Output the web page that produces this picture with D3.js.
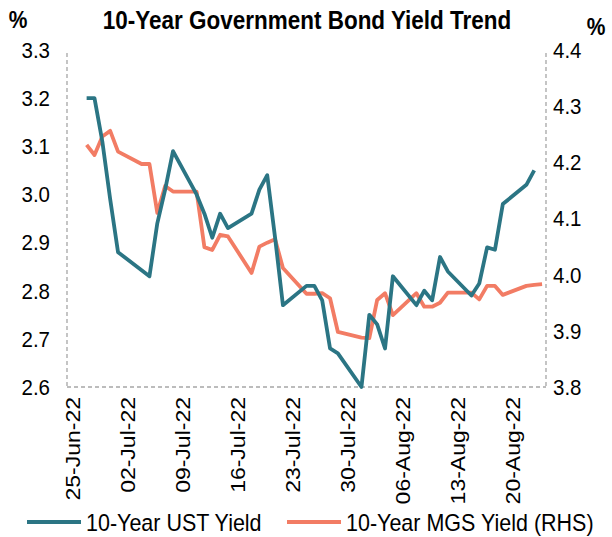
<!DOCTYPE html>
<html>
<head>
<meta charset="utf-8">
<script src="https://cdn.jsdelivr.net/npm/d3@7"></script>
<style>
  html, body { margin: 0; padding: 0; background: #fff; }
  svg { display: block; font-family: "Liberation Sans", Arial, sans-serif; }
</style>
</head>
<body>
<svg id="chart" width="612" height="537"></svg>
<script>
// 10-year UST yield (left axis), US trading days
const ustDates = [
  "2022-06-27","2022-06-28","2022-06-29","2022-06-30","2022-07-01",
  "2022-07-05","2022-07-06","2022-07-07","2022-07-08",
  "2022-07-11","2022-07-12","2022-07-13","2022-07-14","2022-07-15",
  "2022-07-18","2022-07-19","2022-07-20","2022-07-21","2022-07-22",
  "2022-07-25","2022-07-26","2022-07-27","2022-07-28","2022-07-29",
  "2022-08-01","2022-08-02","2022-08-03","2022-08-04","2022-08-05",
  "2022-08-08","2022-08-09","2022-08-10","2022-08-11","2022-08-12",
  "2022-08-15","2022-08-16","2022-08-17","2022-08-18","2022-08-19",
  "2022-08-22","2022-08-23"
];
const ustYield = [
  3.20, 3.20, 3.11, 2.99, 2.88,
  2.83, 2.94, 3.01, 3.09,
  3.00, 2.96, 2.91, 2.96, 2.93,
  2.96, 3.01, 3.04, 2.91, 2.77,
  2.81, 2.81, 2.78, 2.68, 2.67,
  2.60, 2.75, 2.73, 2.68, 2.83,
  2.77, 2.80, 2.78, 2.87, 2.84,
  2.79, 2.815, 2.89, 2.885, 2.98,
  3.02, 3.05
];

// 10-year MGS yield (right axis), Malaysian trading days
const mgsDates = [
  "2022-06-27","2022-06-28","2022-06-29","2022-06-30","2022-07-01",
  "2022-07-04","2022-07-05","2022-07-06","2022-07-07","2022-07-08",
  "2022-07-11","2022-07-12","2022-07-13","2022-07-14","2022-07-15",
  "2022-07-18","2022-07-19","2022-07-20","2022-07-21","2022-07-22",
  "2022-07-25","2022-07-26","2022-07-27","2022-07-28","2022-07-29",
  "2022-08-01","2022-08-02","2022-08-03","2022-08-04","2022-08-05",
  "2022-08-08","2022-08-09","2022-08-10","2022-08-11","2022-08-12",
  "2022-08-15","2022-08-16","2022-08-17","2022-08-18","2022-08-19",
  "2022-08-22","2022-08-23","2022-08-24"
];
const mgsYield = [
  4.231, 4.213, 4.246, 4.256, 4.219,
  4.197, 4.197, 4.110, 4.158, 4.148,
  4.148, 4.049, 4.044, 4.071, 4.068,
  4.003, 4.050, 4.057, 4.063, 4.012,
  3.966, 3.966, 3.967, 3.958, 3.898,
  3.888, 3.887, 3.955, 3.967, 3.928,
  3.967, 3.943, 3.943, 3.950, 3.968,
  3.968, 3.956, 3.980, 3.980, 3.964,
  3.980, 3.982, 3.983
];

const xTickLabels = ["25-Jun-22","02-Jul-22","09-Jul-22","16-Jul-22","23-Jul-22",
                     "30-Jul-22","06-Aug-22","13-Aug-22","20-Aug-22"];
const leftTicks = [2.6, 2.7, 2.8, 2.9, 3.0, 3.1, 3.2, 3.3];
const rightTicks = [3.8, 3.9, 4.0, 4.1, 4.2, 4.3, 4.4];
const seriesNames = ["10-Year UST Yield", "10-Year MGS Yield (RHS)"];
const seriesColors = ["#2b7584", "#f27c64"];

const parse = d3.utcParse("%Y-%m-%d");
const parseTick = d3.utcParse("%d-%b-%y");
const FONT = "Liberation Sans, Arial, sans-serif";
const TALL = 1.12; // slightly tall lettering

const svg = d3.select("#chart");
const plot = { left: 67, right: 546, top: 50, bottom: 387 };

// one slot per calendar day, points at the slot centre
const x = d3.scaleUtc()
  .domain([new Date(Date.UTC(2022, 5, 24, 12)), new Date(Date.UTC(2022, 7, 24, 12))])
  .range([plot.left, plot.right]);
const yL = d3.scaleLinear().domain([2.6, 3.3]).range([plot.bottom, plot.top]);
const yR = d3.scaleLinear().domain([3.8, 4.4]).range([plot.bottom, plot.top]);

// frame: dashed grey left, right and bottom edges
const frame = svg.append("g")
  .attr("stroke", "#a6a6a6").attr("stroke-width", 1.3)
  .attr("stroke-dasharray", "4,3").attr("fill", "none");
frame.append("line").attr("x1", plot.left).attr("x2", plot.left)
  .attr("y1", plot.top + 3).attr("y2", plot.bottom);
frame.append("line").attr("x1", plot.right).attr("x2", plot.right)
  .attr("y1", plot.top + 3).attr("y2", plot.bottom);
frame.append("line").attr("x1", plot.left).attr("x2", plot.right)
  .attr("y1", plot.bottom).attr("y2", plot.bottom);

// left axis
const leftAxis = svg.append("g")
  .attr("transform", `translate(${plot.left},0)`)
  .call(d3.axisLeft(yL).tickValues(leftTicks).tickFormat(d3.format(".1f")).tickSize(0).tickPadding(17));
leftAxis.select(".domain").remove();
leftAxis.selectAll("text").attr("font-size", 20.5).attr("fill", "#000").attr("font-family", FONT)
  .attr("transform", `scale(1,${TALL})`);

// right axis
const rightAxis = svg.append("g")
  .attr("transform", `translate(${plot.right},0)`)
  .call(d3.axisRight(yR).tickValues(rightTicks).tickFormat(d3.format(".1f")).tickSize(0).tickPadding(7));
rightAxis.select(".domain").remove();
rightAxis.selectAll("text").attr("font-size", 20.5).attr("fill", "#000").attr("font-family", FONT)
  .attr("transform", `scale(1,${TALL})`);

// bottom axis with rotated date labels
const xTicks = xTickLabels.map(s => parseTick(s));
const bottomAxis = svg.append("g")
  .attr("transform", `translate(0,${plot.bottom})`)
  .call(d3.axisBottom(x).tickValues(xTicks).tickFormat((d, i) => xTickLabels[i]).tickSize(0));
bottomAxis.select(".domain").remove();
bottomAxis.selectAll("text")
  .attr("font-size", 20).attr("fill", "#000").attr("font-family", FONT)
  .attr("text-anchor", "end")
  .attr("dy", null)
  .attr("transform", "translate(2,10) rotate(-90) scale(1.15,1)")
  .attr("x", 0).attr("y", 0)
  .attr("dominant-baseline", "central");

// series lines
const ustData = ustDates.map((d, i) => ({ date: parse(d), v: ustYield[i] }));
const mgsData = mgsDates.map((d, i) => ({ date: parse(d), v: mgsYield[i] }));

svg.append("path").datum(mgsData)
  .attr("fill", "none").attr("stroke", seriesColors[1]).attr("stroke-width", 3.8)
  .attr("stroke-linejoin", "round")
  .attr("d", d3.line().x(d => x(d.date)).y(d => yR(d.v)));

svg.append("path").datum(ustData)
  .attr("fill", "none").attr("stroke", seriesColors[0]).attr("stroke-width", 3.8)
  .attr("stroke-linejoin", "round")
  .attr("d", d3.line().x(d => x(d.date)).y(d => yL(d.v)));

// title and unit labels (drawn at origin, then placed)
function label(txt, px, py, size, bold) {
  svg.append("text")
    .attr("transform", `translate(${px},${py}) scale(1,${TALL})`)
    .attr("text-anchor", "middle")
    .attr("font-size", size).attr("font-weight", bold ? "bold" : null)
    .attr("font-family", FONT).text(txt);
}
label("10-Year Government Bond Yield Trend", 307, 29, 22.5, true);
label("%", 18, 28, 21, true);
label("%", 596, 35, 21, true);

// legend
const legendX = [27, 287];
seriesNames.forEach((name, i) => {
  const g = svg.append("g").attr("transform", `translate(${legendX[i]},522)`);
  g.append("line").attr("x1", 0).attr("x2", 54).attr("y1", 0).attr("y2", 0)
    .attr("stroke", seriesColors[i]).attr("stroke-width", 3.8);
  g.append("text").attr("x", 59).attr("y", 0).attr("dy", "0.36em")
    .attr("transform", `scale(1,${TALL})`)
    .attr("font-size", 21.5).attr("fill", "#000").attr("font-family", FONT).text(name);
});
</script>
</body>
</html>
